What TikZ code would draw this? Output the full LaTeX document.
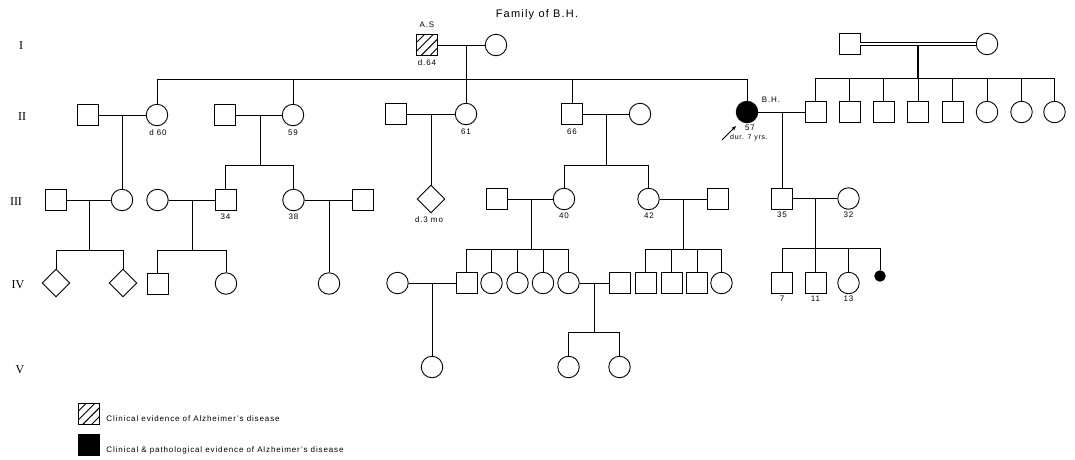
\documentclass[tikz,border=0pt]{standalone}
\usepackage{fontspec}
\setmainfont{Liberation Serif}
\setsansfont{Liberation Sans}[LetterSpace=11]
\usetikzlibrary{shapes.geometric,arrows.meta}
\begin{document}
\begin{tikzpicture}[x=1pt,y=-1pt,
  every path/.style={line width=0.8pt},
  person/.style={draw,line width=0.9pt,inner sep=0pt,fill=white},
  male/.style={person,rectangle,minimum size=21pt},
  female/.style={person,circle,minimum size=21.5pt},
  unk/.style={person,diamond,minimum size=28pt},
  hatch/.style={path picture={
    \foreach \c in {-0.62,-0.2,0.22,0.64}{
      \draw[line width=0.9pt] ([xshift=\c*21pt-15pt,yshift=-15pt]path picture bounding box.center)
        -- ([xshift=\c*21pt+15pt,yshift=15pt]path picture bounding box.center);}}},
  lbl/.style={font=\sffamily\fontsize{8}{9}\selectfont,inner sep=0pt},
  small/.style={font=\sffamily\fontsize{7}{8}\selectfont,inner sep=0pt},
  gen/.style={font=\fontsize{12}{13}\selectfont,inner sep=0pt},
  ttl/.style={font=\sffamily\fontsize{11}{12}\selectfont,inner sep=0pt}]
\useasboundingbox (0,0) rectangle (1075,459);
\fill[white] (0,0) rectangle (1075,459);

% title and generation labels
\node[ttl] (title) at (537,15) {Family of B.H.};
\node[gen] (gI) at (21,46) {I};
\node[gen] (gII) at (22,117) {II};
\node[gen] (gIII) at (16,202) {III};
\node[gen] (gIV) at (18,285) {IV};
\node[gen] (gV) at (20,370) {V};

% helper levels
\coordinate (sI) at (0,79);
\coordinate (sR) at (0,78);
\coordinate (sII) at (0,165);
\coordinate (sIIIa) at (0,250);
\coordinate (sIIIb) at (0,249);
\coordinate (sIIIc) at (0,248);
\coordinate (sIV) at (0,332);

% ---------- generation I
\node[male,hatch] (AS) at (427,45) {};
\node[female] (ASw) at (496,45) {};
\node[lbl] (ASl) at (427,25) {A.S};
\node[lbl] (ASd) at (427,63) {d.64};
\draw (AS) -- (ASw);
\coordinate (jI) at (466,45);

\node[male] (RI) at (849.5,44) {};
\node[female] (RIw) at (987,44) {};
\draw[double,double distance=2.6pt,line width=0.7pt] (RI) -- (RIw);
\coordinate (jR) at (918,45.5);

% ---------- generation II
\node[male] (a1) at (88,115) {};
\node[female] (a2) at (157,115) {};
\node[male] (b1) at (225,115) {};
\node[female] (b2) at (293,115) {};
\node[male] (c1) at (396,114) {};
\node[female] (c2) at (466,114) {};
\node[male] (d1) at (572,114) {};
\node[female] (d2) at (640,114) {};
\node[female,fill=black] (bh) at (747,112) {};
\node[male] (e1) at (815.5,112) {};
\node[male] (e2) at (849.5,112) {};
\node[male] (e3) at (883.5,112) {};
\node[male] (e4) at (918,112) {};
\node[male] (e5) at (952.5,112) {};
\node[female] (e6) at (987,112) {};
\node[female] (e7) at (1021.5,112) {};
\node[female] (e8) at (1054.5,112) {};

\node[lbl] (la2) at (158,133) {d 60};
\node[lbl] (lb2) at (293,133) {59};
\node[lbl] (lc2) at (466,132) {61};
\node[lbl] (ld1) at (572,132) {66};
\node[lbl] (lbh) at (771,100) {B.H.};
\node[lbl] (lbh2) at (750,128) {57};
\node[small] (lbh3) at (749,138) {dur. 7 yrs.};
\coordinate (arS) at (722,140);
\coordinate (arE) at (736,126);
\draw[-{Stealth[length=5pt,width=4pt]}] (arS) -- (arE);

% gen I -> II
\draw (jI) -- (c2.north);
\draw (a2.north) -- (a2.north |- sI) -- (bh.north |- sI) -- (bh.north);
\draw (b2.north) -- (b2.north |- sI);
\draw (d1.north) -- (d1.north |- sI);
\draw[line width=1.6pt] (jR) -- (jR |- sR);
\draw (e1.north) -- (e1.north |- sR) -- (e8.north |- sR) -- (e8.north);
\foreach \n in {e2,e3,e4,e5,e6,e7}{\draw (\n.north) -- (\n.north |- sR);}

% marriages II
\draw (a1) -- (a2);
\draw (b1) -- (b2);
\draw (c1) -- (c2);
\draw (d1) -- (d2);
\draw (bh) -- (e1);
\coordinate (ja) at (122,115);
\coordinate (jb) at (260,115);
\coordinate (jc) at (431,114);
\coordinate (jd) at (606,114);
\coordinate (je) at (782,112);

% ---------- generation III
\node[male] (f0) at (55.5,200) {};
\node[female] (f1) at (122,200) {};
\node[female] (g0) at (157.5,200) {};
\node[male] (g1) at (225.5,200) {};
\node[female] (h1) at (293.5,200) {};
\node[male] (h0) at (362.5,200) {};
\node[unk] (c3) at (431,199) {};
\node[male] (i0) at (496.5,199) {};
\node[female] (i1) at (564,199) {};
\node[female] (j1) at (648.5,199) {};
\node[male] (j0) at (717.5,199) {};
\node[male] (k1) at (782,198.5) {};
\node[female] (k0) at (848.5,198.5) {};

\node[lbl] (lg1) at (225.5,217) {34};
\node[lbl] (lh1) at (293.5,217) {38};
\node[lbl] (lc3) at (429,220) {d.3 mo};
\node[lbl] (li1) at (564,216) {40};
\node[lbl] (lj1) at (649,216) {42};
\node[lbl] (lk1) at (782,215) {35};
\node[lbl] (lk0) at (848.5,215) {32};

% gen II -> III
\draw (ja) -- (ja |- f1.north);
\draw (jb) -- (jb |- sII);
\draw (g1.north) -- (g1.north |- sII) -- (h1.north |- sII) -- (h1.north);
\draw (jc) -- (jc |- c3.north);
\draw (jd) -- (jd |- sII);
\draw (i1.north) -- (i1.north |- sII) -- (j1.north |- sII) -- (j1.north);
\draw (je) -- (je |- k1.north);

% marriages III
\draw (f0) -- (f1);
\draw (g0) -- (g1);
\draw (h1) -- (h0);
\draw (i0) -- (i1);
\draw (j1) -- (j0);
\draw (k1) -- (k0);
\coordinate (jf) at (89,200);
\coordinate (jg) at (192,200);
\coordinate (jh) at (329,200);
\coordinate (ji) at (531,199);
\coordinate (jj) at (683,199);
\coordinate (jk) at (815.5,198.5);

% ---------- generation IV
\node[unk] (l1) at (56,283) {};
\node[unk] (l2) at (123,283) {};
\node[male] (m1) at (157.5,283.5) {};
\node[female] (m2) at (226,283.5) {};
\node[female] (n1) at (329,283.5) {};
\node[female] (o0) at (397.5,283) {};
\node[male] (o1) at (466.5,283) {};
\node[female] (o2) at (491.5,283) {};
\node[female] (o3) at (517.5,283) {};
\node[female] (o4) at (543,283) {};
\node[female] (o5) at (568.5,283) {};
\node[male] (p0) at (619.5,283) {};
\node[male] (q1) at (645.5,283) {};
\node[male] (q2) at (671.5,283) {};
\node[male] (q3) at (697,283) {};
\node[female] (q4) at (721.5,283) {};
\node[male] (r1) at (782,283) {};
\node[male] (r2) at (815.5,283) {};
\node[female] (r3) at (848.5,283) {};
\node[female,fill=black,minimum size=10.5pt] (r4) at (880,276) {};

\node[lbl] (lr1) at (782,299) {7};
\node[lbl] (lr2) at (815.5,298.5) {11};
\node[lbl] (lr3) at (848.5,299) {13};

% gen III -> IV
\draw (jf) -- (jf |- sIIIa);
\draw (l1.north) -- (l1.north |- sIIIa) -- (l2.north |- sIIIa) -- (l2.north);
\draw (jg) -- (jg |- sIIIa);
\draw (m1.north) -- (m1.north |- sIIIa) -- (m2.north |- sIIIa) -- (m2.north);
\draw (jh) -- (jh |- n1.north);
\draw (ji) -- (ji |- sIIIb);
\draw (o1.north) -- (o1.north |- sIIIb) -- (o5.north |- sIIIb) -- (o5.north);
\foreach \n in {o2,o3,o4}{\draw (\n.north) -- (\n.north |- sIIIb);}
\draw (jj) -- (jj |- sIIIb);
\draw (q1.north) -- (q1.north |- sIIIb) -- (q4.north |- sIIIb) -- (q4.north);
\foreach \n in {q2,q3}{\draw (\n.north) -- (\n.north |- sIIIb);}
\draw (jk) -- (jk |- sIIIc);
\draw (r1.north) -- (r1.north |- sIIIc) -- (r4.north |- sIIIc) -- (r4.north);
\foreach \n in {r2,r3}{\draw (\n.north) -- (\n.north |- sIIIc);}

% marriages IV
\draw (o0) -- (o1);
\draw (o5) -- (p0);
\coordinate (jo) at (432,283);
\coordinate (jp) at (594,283);

% ---------- generation V
\node[female] (s1) at (432,367) {};
\node[female] (t1) at (568.5,367) {};
\node[female] (t2) at (619.5,367) {};
\draw (jo) -- (jo |- s1.north);
\draw (jp) -- (jp |- sIV);
\draw (t1.north) -- (t1.north |- sIV) -- (t2.north |- sIV) -- (t2.north);

% ---------- legend
\node[male,hatch] (leg1) at (88.5,414) {};
\node[male,fill=black] (leg2) at (88.5,445) {};
\node[lbl,anchor=west] (leg1t) at (106,419) {Clinical evidence of Alzheimer's disease};
\node[lbl,anchor=west] (leg2t) at (106,450) {Clinical \& pathological evidence of Alzheimer's disease};
\end{tikzpicture}
\end{document}
